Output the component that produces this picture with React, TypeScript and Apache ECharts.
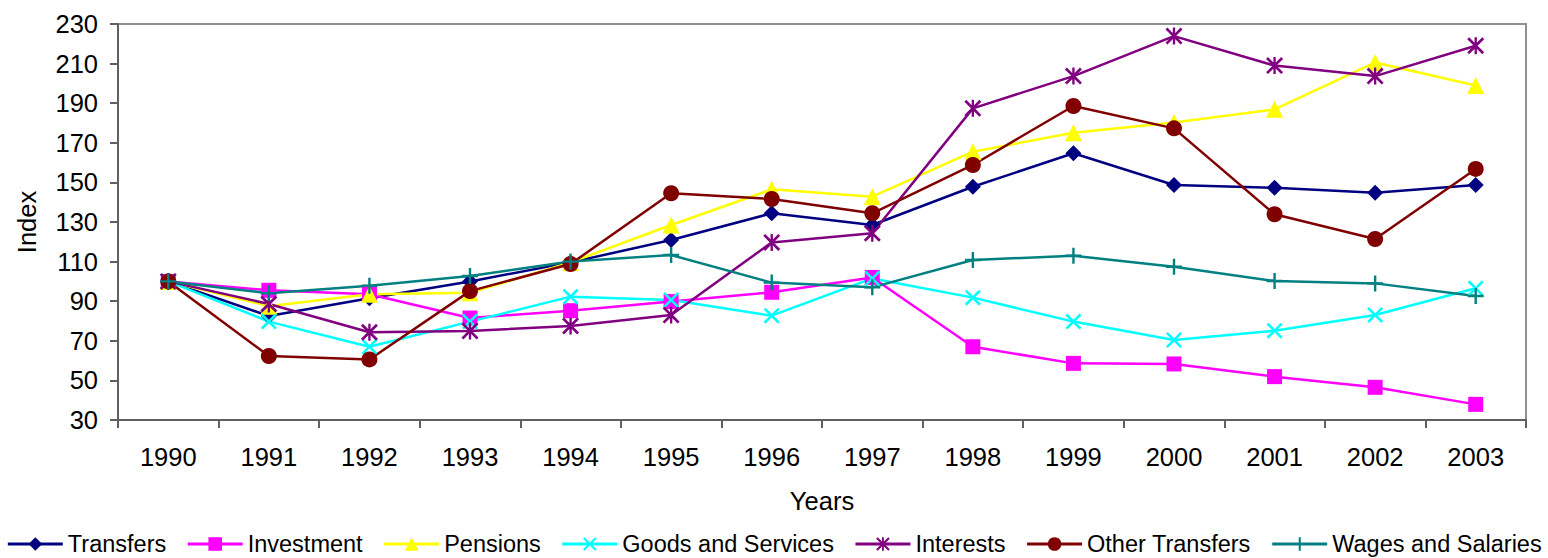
import React, { useEffect, useRef } from "react";
import * as echarts from "echarts";

// Index values (1990 = 100) per spending category
const years = ["1990", "1991", "1992", "1993", "1994", "1995", "1996", "1997", "1998", "1999", "2000", "2001", "2002", "2003"];

const transfers = [100, 82.5, 91.5, 100, 109.6, 120.9, 134.4, 128.5, 147.8, 164.7, 148.7, 147.3, 144.8, 148.7];
const investment = [100, 95.5, 93.5, 81.5, 85.2, 89.8, 94.5, 102, 67, 58.6, 58.3, 51.9, 46.5, 37.9];
const pensions = [100, 87.5, 93.5, 94.3, 109.6, 128.5, 146.5, 142.8, 165.5, 175.1, 180.2, 186.9, 210.6, 198.9];
const goodsAndServices = [100, 79.7, 67, 79.7, 92.3, 90.6, 82.7, 101.5, 91.8, 79.7, 70.4, 75.1, 83, 96.5];
const interests = [100, 88.6, 74.3, 75, 77.5, 83, 119.7, 124.3, 187.4, 203.7, 223.9, 209, 203.7, 219];
const otherTransfers = [100, 62.3, 60.6, 95.1, 108.8, 144.5, 141.6, 134.4, 158.8, 188.6, 177.3, 133.9, 121.4, 156.8];
const wagesAndSalaries = [100, 94, 97.8, 102.7, 110, 113.3, 99.4, 97, 110.8, 113, 107.4, 100.2, 99, 92.6];

const FONT = "'Liberation Sans', Arial, sans-serif";

// Marker shapes drawn as filled outlines
const CROSS_X =
  "path://M-8,-6.2L-6.2,-8L0,-1.8L6.2,-8L8,-6.2L1.8,0L8,6.2L6.2,8L0,1.8L-6.2,8L-8,6.2L-1.8,0Z";
const ASTERISK =
  "path://M-8,-6.2L-6.2,-8L0,-1.8L6.2,-8L8,-6.2L1.8,0L8,6.2L6.2,8L0,1.8L-6.2,8L-8,6.2L-1.8,0Z" +
  "M-1.1,-8L1.1,-8L1.1,8L-1.1,8Z";
const PLUS =
  "path://M-1.2,-8L1.2,-8L1.2,-1.2L8,-1.2L8,1.2L1.2,1.2L1.2,8L-1.2,8L-1.2,1.2L-8,1.2L-8,-1.2L-1.2,-1.2Z";

function makeSeries(name: string, data: number[], color: string, symbol: string, symbolSize: number) {
  return {
    name,
    type: "line",
    data,
    symbol,
    symbolSize,
    showAllSymbol: true,
    lineStyle: { color, width: 2.5 },
    itemStyle: { color },
    emphasis: { disabled: true },
  };
}

export default function App() {
  const ref = useRef<HTMLDivElement>(null);

  useEffect(() => {
    if (!ref.current) return;
    const chart = echarts.init(ref.current, undefined, { renderer: "svg" });
    chart.setOption({
      animation: false,
      backgroundColor: "#ffffff",
      textStyle: { fontFamily: FONT, color: "#000" },
      grid: {
        left: 118,
        right: 22,
        top: 24,
        bottom: 138,
        show: true,
        borderColor: "#909090",
        borderWidth: 2,
        backgroundColor: "transparent",
      },
      legend: {
        top: 526,
        left: "center",
        itemWidth: 55,
        itemHeight: 17,
        itemGap: 20,
        lineStyle: { width: 3 },
        textStyle: { fontFamily: FONT, fontSize: 23.5, color: "#000", lineHeight: 26 },
        data: ["Transfers", "Investment", "Pensions", "Goods and Services", "Interests", "Other Transfers", "Wages and Salaries"],
      },
      xAxis: {
        type: "category",
        data: years,
        boundaryGap: true,
        name: "Years",
        nameLocation: "middle",
        nameGap: 68,
        nameTextStyle: { fontFamily: FONT, fontSize: 25.5, color: "#000" },
        axisLine: { lineStyle: { color: "#606060", width: 2 } },
        axisTick: { show: true, length: 8, alignWithLabel: false, lineStyle: { color: "#606060", width: 2 } },
        axisLabel: { fontFamily: FONT, fontSize: 25.5, color: "#000", margin: 24 },
        splitLine: { show: false },
      },
      yAxis: {
        type: "value",
        min: 30,
        max: 230,
        interval: 20,
        name: "Index",
        nameLocation: "middle",
        nameGap: 78,
        nameTextStyle: { fontFamily: FONT, fontSize: 25.5, color: "#000" },
        axisLine: { show: true, lineStyle: { color: "#606060", width: 2 } },
        axisTick: { show: true, length: 8, lineStyle: { color: "#606060", width: 2 } },
        axisLabel: { fontFamily: FONT, fontSize: 25.5, color: "#000", margin: 20 },
        splitLine: { show: false },
      },
      series: [
        makeSeries("Transfers", transfers, "#000080", "diamond", 16),
        makeSeries("Investment", investment, "#ff00ff", "rect", 15),
        makeSeries("Pensions", pensions, "#ffff00", "triangle", 17),
        makeSeries("Goods and Services", goodsAndServices, "#00ffff", CROSS_X, 16),
        makeSeries("Interests", interests, "#800080", ASTERISK, 17),
        makeSeries("Other Transfers", otherTransfers, "#800000", "circle", 16),
        makeSeries("Wages and Salaries", wagesAndSalaries, "#008080", PLUS, 16),
      ],
    });
    return () => chart.dispose();
  }, []);

  return (
    <div
      ref={ref}
      style={{ position: "fixed", left: 0, top: 0, width: 1548, height: 558, background: "#fff" }}
    />
  );
}
